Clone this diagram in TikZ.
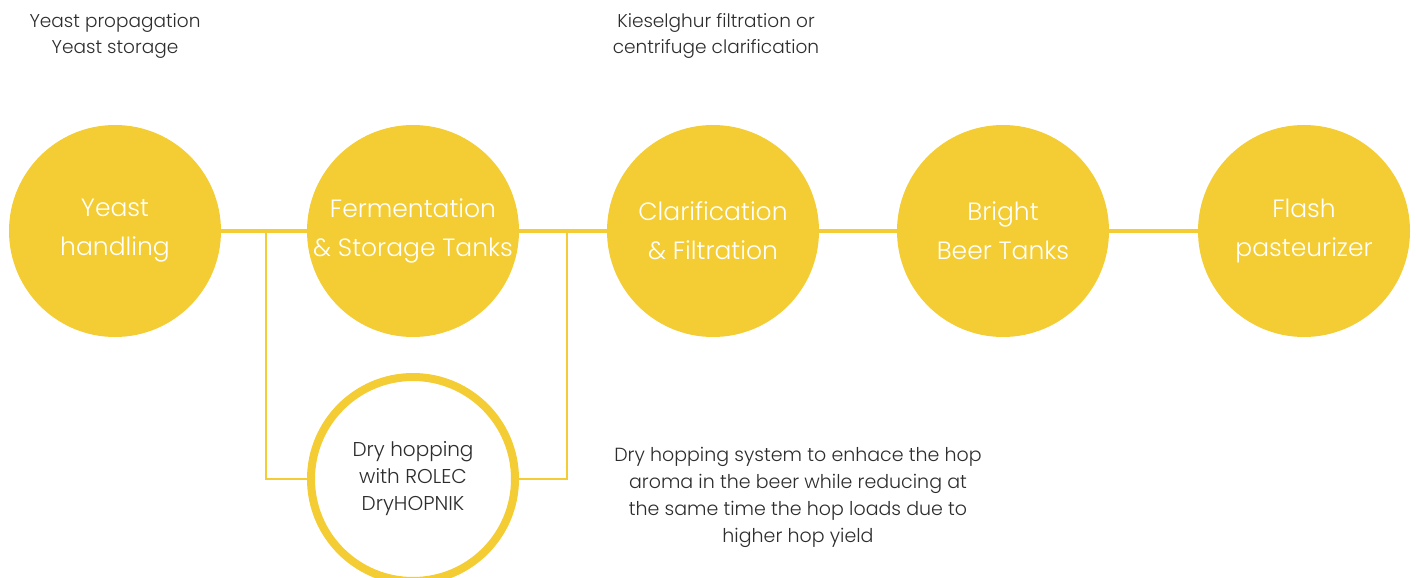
\documentclass[tikz,border=0pt]{standalone}
\usepackage{fontspec}
\setmainfont{Poppins}[UprightFont={* Light}]
\usetikzlibrary{positioning}
\definecolor{myellow}{RGB}{243,205,51}
\definecolor{mgray}{RGB}{45,45,45}
\tikzset{stage/.style = {circle, fill = myellow, inner sep = 0, minimum size = 212,
    text = white, align = center, font = \fontsize{25}{39}\selectfont}}
\tikzset{hop/.style = {circle, draw = myellow, line width = 8, fill = white, inner sep = 0,
    minimum size = 204, text = mgray, align = center, font = \fontsize{20}{27}\selectfont}}
\tikzset{note/.style = {text = mgray, align = center, font = \fontsize{18.5}{26}\selectfont}}
\tikzset{link/.style = {draw = myellow, line width = 3.5}}
\tikzset{branch/.style = {draw = myellow, line width = 2}}

\begin{document}
\begin{tikzpicture}[x = 1pt, y = -1pt]
      \useasboundingbox (0, 0) rectangle (1416, 578);
      \clip (0, 0) rectangle (1416, 578);

      \foreach \name/\x/\label in {yeast/115/{Yeast\\handling},
          ferm/413/{Fermentation\\\& Storage Tanks},
          clar/713/{Clarification\\\& Filtration},
          bright/1003/{Bright\\Beer Tanks},
          flash/1304/{Flash\\pasteurizer}} {
        \node [stage] (\name) at (\x, 231) {\label};
      }

      \draw [link] (yeast) -- (ferm) -- (clar) -- (bright) -- (flash);

      \coordinate (hopin) at (266, 232);
      \coordinate (hopout) at (567, 232);
      \node [hop] (dryhop) at (413, 479) {Dry hopping\\with ROLEC\\DryHOPNIK};
      \draw [branch] (hopin) |- (dryhop);
      \draw [branch] (hopout) |- (dryhop);

      \node [note] (yeastnote) at (115, 36) {Yeast propagation\\Yeast storage};
      \node [note] (clarnote) at (716, 36) {Kieselghur filtration or\\centrifuge clarification};
      \node [note, font = \fontsize{19}{27}\selectfont] (hopnote) at (798, 497)
        {Dry hopping system to enhace the hop\\aroma in the beer while reducing at\\the same time the hop loads due to\\higher hop yield};
    \end{tikzpicture}
\end{document}
